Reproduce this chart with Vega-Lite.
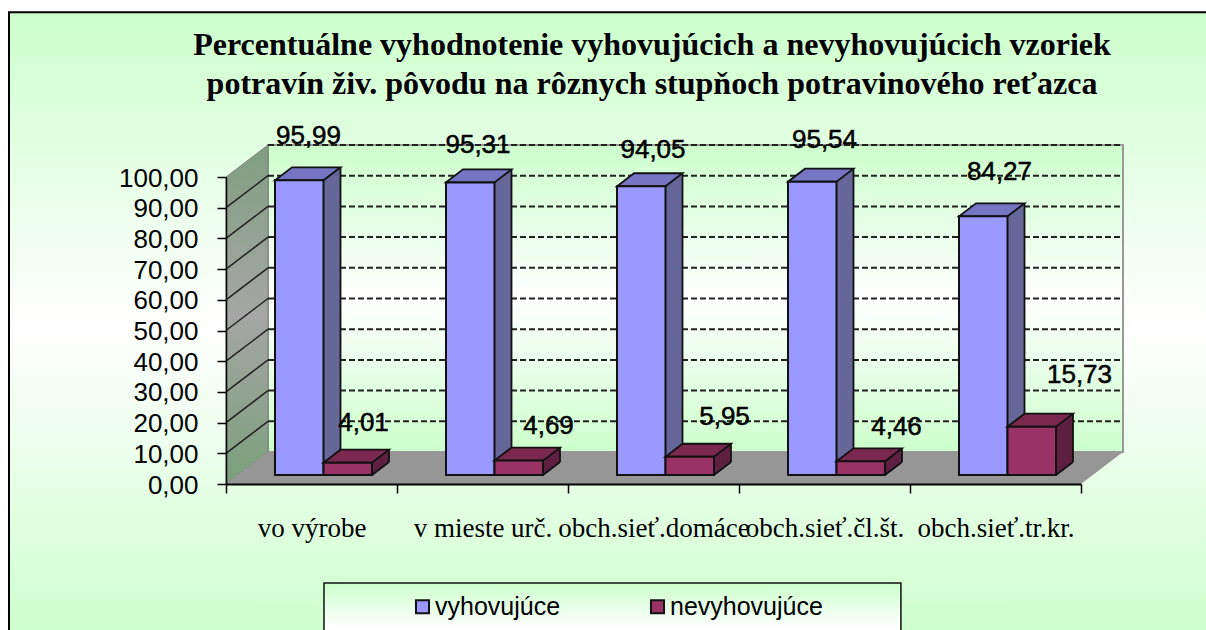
{"$schema":"https://vega.github.io/schema/vega-lite/v6.json","width":1206,"height":630,"padding":0,"autosize":{"type":"none"},"background":"#ffffff","config":{"view":{"stroke":null}},
"title":{"text":["Percentuálne vyhodnotenie vyhovujúcich a nevyhovujúcich vzoriek","potravín živ. pôvodu na rôznych stupňoch potravinového reťazca"],"anchor":"middle","dx":49,"dy":130,"baseline":"alphabetic","font":"Liberation Serif","fontWeight":"bold","fontSize":32,"lineHeight":39,"color":"#000000"},
"data":{"values":[
{"cat":"vo výrobe","series":"vyhovujúce","value":95.99,"label":"95,99"},
{"cat":"v mieste urč.","series":"vyhovujúce","value":95.31,"label":"95,31"},
{"cat":"obch.sieť.domáce","series":"vyhovujúce","value":94.05,"label":"94,05"},
{"cat":"obch.sieť.čl.št.","series":"vyhovujúce","value":95.54,"label":"95,54"},
{"cat":"obch.sieť.tr.kr.","series":"vyhovujúce","value":84.27,"label":"84,27"},
{"cat":"vo výrobe","series":"nevyhovujúce","value":4.01,"label":"4,01"},
{"cat":"v mieste urč.","series":"nevyhovujúce","value":4.69,"label":"4,69"},
{"cat":"obch.sieť.domáce","series":"nevyhovujúce","value":5.95,"label":"5,95"},
{"cat":"obch.sieť.čl.št.","series":"nevyhovujúce","value":4.46,"label":"4,46"},
{"cat":"obch.sieť.tr.kr.","series":"nevyhovujúce","value":15.73,"label":"15,73"}]},
"resolve":{"scale":{"x":"independent"},"axis":{"x":"independent","y":"independent"}},
"layer":[
{"encoding":{"x":{"field":"px","type":"quantitative","axis":null,"scale":{"domain":[0,5],"range":[226,1081],"nice":false,"zero":false}},"y":{"field":"py","type":"quantitative","axis":null,"scale":{"domain":[0,100],"range":[484,177],"nice":false}}},
"resolve":{"axis":{"y":"independent"}},
"layer":[
{"data":{"values":[{"px":-1.269,"px2":5.8,"py":153.7,"py2":-52}]},"mark":{"type":"rect","stroke":"#000000","strokeWidth":2,"color":{"gradient":"linear","x1":0,"y1":0,"x2":0,"y2":1,"stops":[{"offset":0,"color":"#ccffcc"},{"offset":0.5,"color":"#ffffff"},{"offset":1,"color":"#ccffcc"}]}},"encoding":{"x2":{"field":"px2"},"y2":{"field":"py2"}}},
{"data":{"values":[{"px":0.2456,"px2":5.2456,"py":110.42,"py2":10.42}]},"mark":{"type":"rect","stroke":"#999999","strokeWidth":2,"color":{"gradient":"linear","x1":0,"y1":0,"x2":0,"y2":1,"stops":[{"offset":0,"color":"#ccffcc"},{"offset":0.5,"color":"#ffffff"},{"offset":1,"color":"#ccffcc"}]}},"encoding":{"x2":{"field":"px2"},"y2":{"field":"py2"}}},
{"data":{"values":[{"px":0,"py":0,"py2":100},{"px":0.2456,"py":10.42,"py2":110.42}]},"mark":{"type":"area","stroke":"#808080","color":{"gradient":"linear","x1":0,"y1":0,"x2":0,"y2":1,"stops":[{"offset":0,"color":"#7f9f7f"},{"offset":0.5,"color":"#a6a6a6"},{"offset":1,"color":"#7aa07a"}]}},"encoding":{"y2":{"field":"py2"}}},
{"data":{"values":[{"px":0,"py":0,"py2":0},{"px":0.2456,"py":0,"py2":10.42},{"px":5,"py":0,"py2":10.42},{"px":5.2456,"py":10.42,"py2":10.42}]},"mark":{"type":"area","color":"#969696"},"encoding":{"y2":{"field":"py2"}}},
{"data":{"values":[{"py":20.42,"px":0.2456,"px2":5.2456},{"py":30.42,"px":0.2456,"px2":5.2456},{"py":40.42,"px":0.2456,"px2":5.2456},{"py":50.42,"px":0.2456,"px2":5.2456},{"py":60.42,"px":0.2456,"px2":5.2456},{"py":70.42,"px":0.2456,"px2":5.2456},{"py":80.42,"px":0.2456,"px2":5.2456},{"py":90.42,"px":0.2456,"px2":5.2456},{"py":100.42,"px":0.2456,"px2":5.2456},{"py":110.42,"px":0.2456,"px2":5.2456}]},"mark":{"type":"rule","color":"#222222","strokeWidth":2,"strokeDash":[6,3]},"encoding":{"x2":{"field":"px2"}}},
{"data":{"values":[{"py":10,"py2":20.42,"px":0,"px2":0.2456},{"py":20,"py2":30.42,"px":0,"px2":0.2456},{"py":30,"py2":40.42,"px":0,"px2":0.2456},{"py":40,"py2":50.42,"px":0,"px2":0.2456},{"py":50,"py2":60.42,"px":0,"px2":0.2456},{"py":60,"py2":70.42,"px":0,"px2":0.2456},{"py":70,"py2":80.42,"px":0,"px2":0.2456},{"py":80,"py2":90.42,"px":0,"px2":0.2456},{"py":90,"py2":100.42,"px":0,"px2":0.2456}]},"mark":{"type":"rule","color":"#222222","strokeWidth":1.5},"encoding":{"x2":{"field":"px2"},"y2":{"field":"py2"}}}
]},
{"encoding":{"x":{"field":"cat","type":"nominal","sort":null,"title":null,"scale":{"type":"band","domain":["vo výrobe","v mieste urč.","obch.sieť.domáce","obch.sieť.čl.št.","obch.sieť.tr.kr."],"range":[226,1081],"paddingInner":0,"paddingOuter":0},"axis":{"orient":"bottom","offset":-146,"zindex":1,"tickBand":"extent","tickSize":9,"tickColor":"#000000","tickWidth":1.5,"domainColor":"#000000","domainWidth":2,"labelAngle":0,"labelFont":"Liberation Serif","labelFontSize":27,"labelColor":"#000000","labelPadding":35,"labelLimit":0,"labelOverlap":false,"labelBaseline":"middle"}},
"y":{"field":"value","type":"quantitative","stack":null,"title":null,"axis":null,"scale":{"domain":[0,100],"range":[484,177],"nice":false}},"y2":{"datum":0}},
"resolve":{"axis":{"y":"independent"}},
"layer":[
{"transform":[{"filter":"datum.series==='vyhovujúce'"}],"resolve":{"axis":{"y":"independent"}},"layer":[
{"mark":{"type":"bar","width":48.5,"xOffset":4.75,"yOffset":-22,"y2Offset":-22,"color":"#666699"},"encoding":{"y":{"field":"value","type":"quantitative","stack":null,"title":null,"axis":{"orient":"left","offset":-226,"zindex":1,"values":[0,10,20,30,40,50,60,70,80,90,100],"labelExpr":"replace(format(datum.value,'.2f'),'.',',')","tickSize":9,"tickColor":"#000000","tickWidth":1.5,"domainColor":"#000000","domainWidth":1.5,"grid":false,"labelFont":"Liberation Sans","labelFontSize":26,"labelColor":"#000000","labelPadding":19,"labelOffset":1,"labelOverlap":false}}}},
{"mark":{"type":"point","filled":true,"opacity":1,"size":4,"shape":"M0 0 L17 -13 L0 -13Z","xOffset":12,"yOffset":-9,"color":"#666699","strokeWidth":0},"encoding":{"y":{"datum":0,"axis":null},"y2":null}},
{"mark":{"type":"rule","color":"#111111","strokeWidth":1.8,"xOffset":29,"yOffset":-22,"y2Offset":-22}},
{"mark":{"type":"point","filled":true,"opacity":1,"size":4,"shape":"M0 0 L48.5 0 L65.5 -13 L17 -13Z","xOffset":-36.5,"yOffset":-9,"color":"#7575c4","stroke":"#111111","strokeWidth":1.8},"encoding":{"y2":null}},
{"mark":{"type":"bar","width":48.5,"xOffset":-12.25,"yOffset":-9,"y2Offset":-9,"stroke":"#111111","strokeWidth":2},"encoding":{"color":{"field":"series","type":"nominal","sort":null,"scale":{"domain":["vyhovujúce","nevyhovujúce"],"range":["#9999ff","#993366"]},"legend":{"orient":"none","legendX":410,"legendY":594,"direction":"horizontal","columns":2,"title":null,"symbolType":"square","symbolSize":170,"symbolStrokeColor":"#111111","symbolStrokeWidth":2,"symbolOpacity":1,"labelFont":"Liberation Sans","labelFontSize":25,"labelColor":"#000000","labelOffset":0,"columnPadding":84,"padding":0,"labelLimit":0}}}}
]},
{"transform":[{"filter":"datum.series==='nevyhovujúce'"}],"resolve":{"axis":{"y":"independent"}},"layer":[
{"mark":{"type":"bar","width":48.5,"xOffset":53.25,"yOffset":-22,"y2Offset":-22,"color":"#5e2040"}},
{"mark":{"type":"point","filled":true,"opacity":1,"size":4,"shape":"M0 0 L17 -13 L0 -13Z","xOffset":60.5,"yOffset":-9,"color":"#5e2040","strokeWidth":0},"encoding":{"y":{"datum":0,"axis":null},"y2":null}},
{"mark":{"type":"rule","color":"#111111","strokeWidth":1.8,"xOffset":77.5,"yOffset":-22,"y2Offset":-22}},
{"mark":{"type":"point","filled":false,"opacity":1,"size":4,"shape":"M0 0 L17 -13","xOffset":60.5,"yOffset":-9,"stroke":"#111111","strokeWidth":1.8},"encoding":{"y":{"datum":0,"axis":null},"y2":null}},
{"mark":{"type":"point","filled":true,"opacity":1,"size":4,"shape":"M0 0 L48.5 0 L65.5 -13 L17 -13Z","xOffset":12,"yOffset":-9,"color":"#7a2850","stroke":"#111111","strokeWidth":1.8},"encoding":{"y2":null}},
{"mark":{"type":"bar","width":48.5,"xOffset":36.25,"yOffset":-9,"y2Offset":-9,"color":"#993366","stroke":"#111111","strokeWidth":2}}
]},
{"mark":{"type":"text","font":"Liberation Sans","fontSize":26,"color":"#000000","stroke":"#000000","strokeWidth":0.5,"baseline":"middle","align":"center",
"dx":{"expr":"{'95,99':-3,'95,31':-4.5,'94,05':-0.5,'95,54':0,'84,27':4,'4,01':52,'4,69':66,'5,95':71,'4,46':72,'15,73':84}[datum.label]"},
"dy":{"expr":"{'95,99':-53,'95,31':-46,'94,05':-45,'95,54':-51,'84,27':-53,'4,01':-49,'4,69':-44,'5,95':-49,'4,46':-43,'15,73':-61}[datum.label]"}},"encoding":{"y2":null,"text":{"field":"label","type":"nominal"}}}
]},
{"data":{"values":[{"px":0.573,"px2":3.947,"py":-32.25,"py2":-52}]},"mark":{"type":"rect","stroke":"#111111","strokeWidth":1.5,"color":{"gradient":"linear","x1":0,"y1":0,"x2":0,"y2":1,"stops":[{"offset":0,"color":"#ccffcc"},{"offset":0.75,"color":"#ffffff"},{"offset":1,"color":"#ffffff"}]}},"encoding":{"x":{"field":"px","type":"quantitative","axis":null,"scale":{"domain":[0,5],"range":[226,1081],"nice":false,"zero":false}},"x2":{"field":"px2"},"y":{"field":"py","type":"quantitative","axis":null,"scale":{"domain":[0,100],"range":[484,177],"nice":false}},"y2":{"field":"py2"}}}
]}
